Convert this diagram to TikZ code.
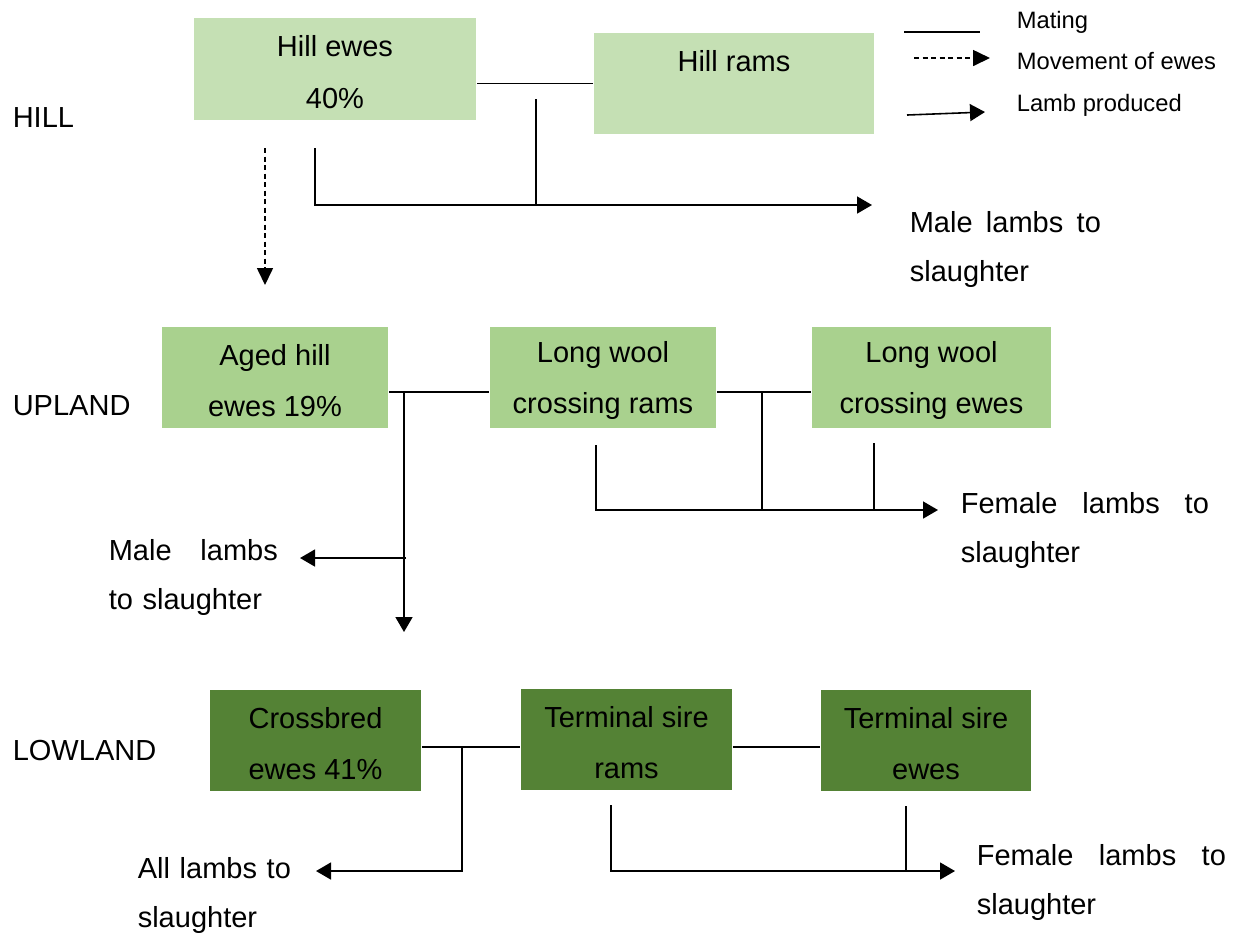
\documentclass[tikz,border=0pt]{standalone}
\usepackage{fontspec}
\setmainfont{Liberation Sans}
\usetikzlibrary{arrows.meta}
\definecolor{hillgreen}{HTML}{C5E0B4}
\definecolor{upgreen}{HTML}{A9D18E}
\definecolor{lowgreen}{HTML}{548235}
\newcommand\flocktop{\rule{0pt}{7.8pt}}
\begin{document}
\begin{tikzpicture}[x=0.01cm,y=-0.01cm,line width=0.45pt,
	flock/.style={align=center,inner sep=0pt,minimum height=1.01cm,font=\fontsize{8.25}{14.6}\selectfont},
	lbl/.style={anchor=base west,inner sep=0pt,align=left,font=\fontsize{8.25}{14.2}\selectfont},
	key/.style={anchor=base west,inner sep=0pt,font=\fontsize{6.75}{8}\selectfont},
	lamb/.style={-{Triangle[length=0.15cm,width=0.17cm]}},
	move/.style={dash pattern=on 0.05cm off 0.035cm,-{Triangle[length=0.17cm,width=0.16cm]}}]
	\useasboundingbox (0,0) rectangle (1243,932);
	% levels
	\node[lbl] (hill) at (12,127) {HILL};
	\node[lbl] (upland) at (12,415) {UPLAND};
	\node[lbl] (lowland) at (12,760) {LOWLAND};
	% key
	\coordinate (k1a) at (904,32); \coordinate (k1b) at (980,32);
	\coordinate (k2a) at (914,58); \coordinate (k2b) at (990,58);
	\coordinate (k3a) at (907,115); \coordinate (k3b) at (985,112);
	\draw (k1a) -- (k1b);
	\draw[move] (k2a) -- (k2b);
	\draw[lamb] (k3a) -- (k3b);
	\node[key] (kmating) at (1016,28) {Mating};
	\node[key] (kmove) at (1016,69) {Movement of ewes};
	\node[key] (klamb) at (1016,111) {Lamb produced};
	% hill flocks
	\node[flock,fill=hillgreen,minimum width=2.82cm,minimum height=1.02cm] (hillewes) at (335,69) {\flocktop Hill ewes\\40\%};
	\node[flock,fill=hillgreen,minimum width=2.80cm] (hillrams) at (734,83.5) {\flocktop Hill rams\\\mbox{}};
	\draw (hillrams.west) -- (hillewes.east |- hillrams.west);
	\coordinate (hj) at (536,99);
	\coordinate (hs) at (315,148);
	\coordinate (hend) at (872,205);
	\draw (hj) -- (hj |- hend);
	\draw[lamb] (hs) |- (hend);
	\node[lbl,text width=1.91cm] (hillmale) at (909,232) {Male\hfill lambs\hfill to\\slaughter};
	\coordinate (hd) at (265,148);
	\coordinate (ud) at (265,285);
	\draw[move] (hd) -- (ud);
	% upland flocks
	\node[flock,fill=upgreen,minimum width=2.26cm] (aged) at (275,377.5) {\flocktop Aged hill\\ewes 19\%};
	\node[flock,fill=upgreen,minimum width=2.26cm] (lwrams) at (603,377.5) {\flocktop Long wool\\crossing rams};
	\node[flock,fill=upgreen,minimum width=2.39cm] (lwewes) at (931.5,377.5) {\flocktop Long wool\\crossing ewes};
	\coordinate (um) at (0,392);
	\draw (aged.east |- um) -- (lwrams.west |- um);
	\draw (lwrams.east |- um) -- (lwewes.west |- um);
	\coordinate (ua) at (404,392);
	\coordinate (ub) at (404,632);
	\draw[lamb] (ua) -- (ub);
	\coordinate (uc) at (406,558);
	\coordinate (ul) at (300,558);
	\draw[lamb] (uc) -- (ul);
	\node[lbl,text width=1.69cm] (upmale) at (108,560) {Male\hfill lambs\\to slaughter};
	\coordinate (uj) at (762,392);
	\coordinate (ur) at (596,445);
	\coordinate (ue) at (874,443);
	\coordinate (uf) at (938,510);
	\draw (uj) -- (uj |- uf);
	\draw (ue) -- (ue |- uf);
	\draw[lamb] (ur) |- (uf);
	\node[lbl,text width=2.48cm] (upfemale) at (960,513) {Female\hfill lambs\hfill to\\slaughter};
	% lowland flocks
	\node[flock,fill=lowgreen,minimum width=2.11cm] (crossbred) at (315.5,740.5) {\flocktop Crossbred\\ewes 41\%};
	\node[flock,fill=lowgreen,minimum width=2.11cm] (tsrams) at (626.5,739.5) {\flocktop Terminal sire\\rams};
	\node[flock,fill=lowgreen,minimum width=2.10cm] (tsewes) at (926,740.5) {\flocktop Terminal sire\\ewes};
	\coordinate (lm) at (0,747);
	\draw (crossbred.east |- lm) -- (tsrams.west |- lm);
	\draw (tsrams.east |- lm) -- (tsewes.west |- lm);
	\coordinate (lj) at (462,747);
	\coordinate (ll) at (316,871);
	\draw[lamb] (lj) |- (ll);
	\node[lbl,text width=1.60cm] (lowall) at (137,878) {All lambs to\\slaughter};
	\coordinate (lr) at (611,805);
	\coordinate (le) at (906,806);
	\coordinate (lf) at (955,871);
	\draw (le) -- (le |- lf);
	\draw[lamb] (lr) |- (lf);
	\node[lbl,text width=2.49cm] (lowfemale) at (976,865) {Female\hfill lambs\hfill to\\slaughter};
\end{tikzpicture}
\end{document}
